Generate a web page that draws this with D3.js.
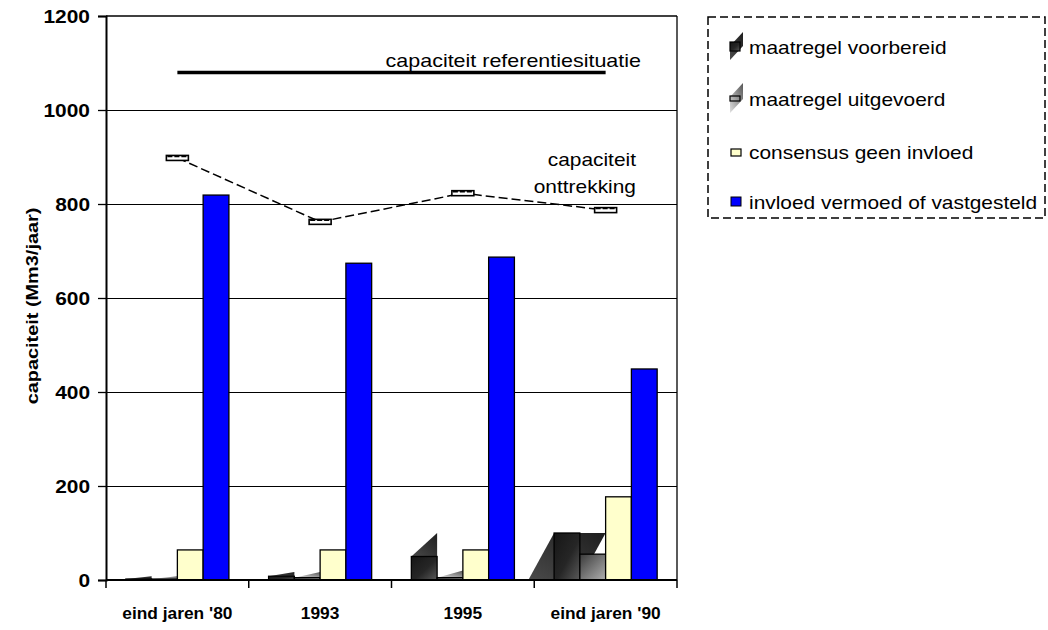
<!DOCTYPE html>
<html><head><meta charset="utf-8">
<script src="https://cdn.jsdelivr.net/npm/d3@7"></script>
<style>body{margin:0;background:#fff}svg{display:block}text{font-family:"Liberation Sans",Arial,sans-serif}</style>
</head><body>
<svg id="c" width="1048" height="630"></svg>
<script>
const categories = ["eind jaren '80", "1993", "1995", "eind jaren '90"];
const series = ["maatregel voorbereid", "maatregel uitgevoerd", "consensus geen invloed", "invloed vermoed of vastgesteld"];
const voorbereid = [2, 8, 50, 100];
const uitgevoerd = [2, 5, 5, 55];
const consensus = [64, 64, 64, 177];
const invloed = [819, 674, 687, 449];
const voorbereidTop = [8, 17, 100, 100];
const uitgevoerdTop = [8, 17, 20, 55];
const onttrekking = [898, 762, 823, 787];
const referentie = 1080;
const yTicks = [0, 200, 400, 600, 800, 1000, 1200];

const svg = d3.select("#c");
const L = 106, R = 677, T = 16, B = 580;
const x = d3.scaleBand().domain(categories).range([L, R]).paddingInner(0).paddingOuter(0);
const xi = d3.scaleBand().domain(series).range([0, x.bandwidth()]).paddingInner(0).paddingOuter(0.77);
const y = d3.scaleLinear().domain([0, 1200]).range([B, T]);
const bw = xi.bandwidth();

function stretch(sel, sx) {
  sel.each(function () {
    const l = this.getComputedTextLength();
    d3.select(this).attr("textLength", l * sx).attr("lengthAdjust", "spacingAndGlyphs");
  });
}

const defs = svg.append("defs");
const g1 = defs.append("linearGradient").attr("id", "gDark").attr("x1", 0).attr("y1", 0).attr("x2", 1).attr("y2", 1);
g1.append("stop").attr("offset", "0%").attr("stop-color", "#161616");
g1.append("stop").attr("offset", "55%").attr("stop-color", "#262626");
g1.append("stop").attr("offset", "100%").attr("stop-color", "#5a5a5a");
const g2 = defs.append("linearGradient").attr("id", "gGray").attr("x1", 0).attr("y1", 0).attr("x2", 1).attr("y2", 1);
g2.append("stop").attr("offset", "0%").attr("stop-color", "#3a3a3a");
g2.append("stop").attr("offset", "100%").attr("stop-color", "#b0b0b0");
const g3 = defs.append("linearGradient").attr("id", "gShade").attr("x1", 0).attr("y1", 1).attr("x2", 1).attr("y2", 0);
g3.append("stop").attr("offset", "0%").attr("stop-color", "#4a4a4a");
g3.append("stop").attr("offset", "100%").attr("stop-color", "#1e1e1e");
const g4 = defs.append("linearGradient").attr("id", "gShade2").attr("x1", 0).attr("y1", 1).attr("x2", 1).attr("y2", 0);
g4.append("stop").attr("offset", "0%").attr("stop-color", "#e0e0e0");
g4.append("stop").attr("offset", "100%").attr("stop-color", "#555");

// gridlines
svg.append("g").selectAll("line").data(yTicks.filter(d => d > 0 && d < 1200)).join("line")
  .attr("x1", L).attr("x2", R).attr("y1", d => y(d)).attr("y2", d => y(d))
  .attr("stroke", "#000").attr("stroke-width", 1).attr("shape-rendering", "crispEdges");

// frame top/right
svg.append("line").attr("x1", L).attr("x2", R).attr("y1", y(1200)).attr("y2", y(1200)).attr("stroke", "#000").attr("stroke-width", 1.3);
svg.append("line").attr("x1", R).attr("x2", R).attr("y1", y(1200)).attr("y2", B).attr("stroke", "#000").attr("stroke-width", 1.3);

// reference line
svg.append("line")
  .attr("x1", x(categories[0]) + x.bandwidth() / 2).attr("x2", x(categories[3]) + x.bandwidth() / 2)
  .attr("y1", y(referentie)).attr("y2", y(referentie))
  .attr("stroke", "#000").attr("stroke-width", 3.5);
svg.append("text").attr("x", 641).attr("y", y(referentie) - 5).attr("text-anchor", "end")
  .attr("font-size", 19).text("capaciteit referentiesituatie").call(stretch, 1.13);

const bars = svg.append("g");
categories.forEach((c, i) => {
  const gx = x(c);
  const x0d = gx + xi(series[0]), x1d = x0d + bw;
  const x0u = gx + xi(series[1]), x1u = x0u + bw;
  if (i === 3) {
    bars.append("path").attr("d", d3.line()([[x0d - bw, y(0)], [x1d, y(0)], [x1d + bw, y(voorbereid[i])], [x0d, y(voorbereid[i])]]))
      .attr("fill", "url(#gShade)");
  }
  if (voorbereidTop[i] > voorbereid[i]) {
    bars.append("path").attr("d", d3.line()([[x0d, y(voorbereid[i])], [x1d, y(voorbereidTop[i])], [x1d, y(voorbereid[i])]]))
      .attr("fill", "url(#gShade)");
  }
  bars.append("rect").attr("x", x0d).attr("y", y(voorbereid[i])).attr("width", bw).attr("height", y(0) - y(voorbereid[i]))
    .attr("fill", "url(#gDark)").attr("stroke", "#000").attr("stroke-width", 1.3);
  if (uitgevoerdTop[i] > uitgevoerd[i]) {
    bars.append("path").attr("d", d3.line()([[x0u, y(uitgevoerd[i])], [x1u, y(uitgevoerdTop[i])], [x1u, y(uitgevoerd[i])]]))
      .attr("fill", "url(#gShade2)");
  }
  bars.append("rect").attr("x", x0u).attr("y", y(uitgevoerd[i])).attr("width", bw).attr("height", y(0) - y(uitgevoerd[i]))
    .attr("fill", "url(#gGray)").attr("stroke", "#000").attr("stroke-width", 1.3);
  bars.append("rect").attr("x", gx + xi(series[2])).attr("y", y(consensus[i])).attr("width", bw).attr("height", y(0) - y(consensus[i]))
    .attr("fill", "#FFFFCC").attr("stroke", "#000").attr("stroke-width", 1.3);
  bars.append("rect").attr("x", gx + xi(series[3])).attr("y", y(invloed[i])).attr("width", bw).attr("height", y(0) - y(invloed[i]))
    .attr("fill", "#0000FF").attr("stroke", "#000").attr("stroke-width", 1.3);
});

// onttrekking line
const cx = c => x(c) + x.bandwidth() / 2;
svg.append("path").datum(onttrekking)
  .attr("d", d3.line().x((d, i) => cx(categories[i])).y(d => y(d)))
  .attr("fill", "none").attr("stroke", "#000").attr("stroke-width", 1.5).attr("stroke-dasharray", "9,4");
const mk = svg.append("g").selectAll("g").data(onttrekking).join("g")
  .attr("transform", (d, i) => `translate(${cx(categories[i])},${y(d)})`);
mk.append("rect").attr("x", -11).attr("y", -2.5).attr("width", 22).attr("height", 5)
  .attr("fill", "#fff").attr("stroke", "#000").attr("stroke-width", 1.6);
mk.append("line").attr("x1", -10).attr("x2", 10).attr("y1", -1.5).attr("y2", -1.5)
  .attr("stroke", "#000").attr("stroke-width", 1.5).attr("stroke-dasharray", "5,2");
svg.append("text").attr("x", 636).attr("y", 166).attr("text-anchor", "end").attr("font-size", 19).text("capaciteit").call(stretch, 1.1);
svg.append("text").attr("x", 636).attr("y", 193).attr("text-anchor", "end").attr("font-size", 19).text("onttrekking").call(stretch, 1.1);

// axes
const yAxis = svg.append("g").attr("transform", `translate(${L},0)`)
  .call(d3.axisLeft(y).tickValues(yTicks).tickSize(8).tickPadding(8).tickFormat(d3.format("d")));
yAxis.select(".domain").attr("stroke-width", 2);
yAxis.selectAll(".tick line").attr("stroke-width", 1.3);
yAxis.selectAll("text").attr("font-size", 19).attr("font-weight", "bold").attr("fill", "#000")
  .attr("font-family", '"Liberation Sans",Arial,sans-serif').call(stretch, 1.1);

svg.append("line").attr("x1", L).attr("x2", R).attr("y1", B).attr("y2", B).attr("stroke", "#000").attr("stroke-width", 2);
const bounds = categories.map(c => x(c)).concat([R]);
svg.append("g").selectAll("line").data(bounds).join("line")
  .attr("x1", d => d).attr("x2", d => d).attr("y1", B).attr("y2", B + 8)
  .attr("stroke", "#000").attr("stroke-width", 1.5);
svg.append("g").selectAll("text").data(categories).join("text")
  .attr("x", d => cx(d)).attr("y", 619).attr("text-anchor", "middle")
  .attr("font-size", 17).attr("font-weight", "bold").text(d => d).call(stretch, 1.02);

svg.append("text").attr("transform", `translate(38,${(T + B) / 2 + 8}) rotate(-90)`)
  .attr("text-anchor", "middle").attr("font-size", 17).attr("font-weight", "bold")
  .text("capaciteit (Mm3/jaar)").call(stretch, 1.17);

// legend
const lg = svg.append("g");
lg.append("rect").attr("x", 708).attr("y", 17).attr("width", 337).attr("height", 201)
  .attr("fill", "none").attr("stroke", "#000").attr("stroke-width", 1.5).attr("stroke-dasharray", "8,4");
const ly = [47, 99, 152, 202];
series.forEach((s, i) => {
  lg.append("text").attr("x", 749).attr("y", ly[i] + 7).attr("font-size", 19).text(s).call(stretch, 1.1);
});
lg.append("path").attr("d", d3.line()([[730, ly[0] - 1], [743, ly[0] - 15], [743, ly[0] - 1], [730, ly[0] + 13]])).attr("fill", "url(#gShade)");
lg.append("rect").attr("x", 730).attr("y", ly[0] - 5).attr("width", 10).attr("height", 9).attr("fill", "url(#gDark)").attr("stroke", "#000").attr("stroke-width", 1.2);
lg.append("path").attr("d", d3.line()([[730, ly[1] - 2], [743, ly[1] - 16], [743, ly[1]], [730, ly[1] + 14]])).attr("fill", "url(#gShade2)");
lg.append("rect").attr("x", 730).attr("y", ly[1] - 3).attr("width", 10).attr("height", 5).attr("fill", "none").attr("stroke", "#000").attr("stroke-width", 1.2);
lg.append("rect").attr("x", 731).attr("y", ly[2] - 3).attr("width", 10).attr("height", 7).attr("fill", "#FFFFCC").attr("stroke", "#000").attr("stroke-width", 1.2);
lg.append("rect").attr("x", 731).attr("y", ly[3] - 5).attr("width", 10).attr("height", 9).attr("fill", "#0000FF").attr("stroke", "#000").attr("stroke-width", 1);
</script>
</body></html>
